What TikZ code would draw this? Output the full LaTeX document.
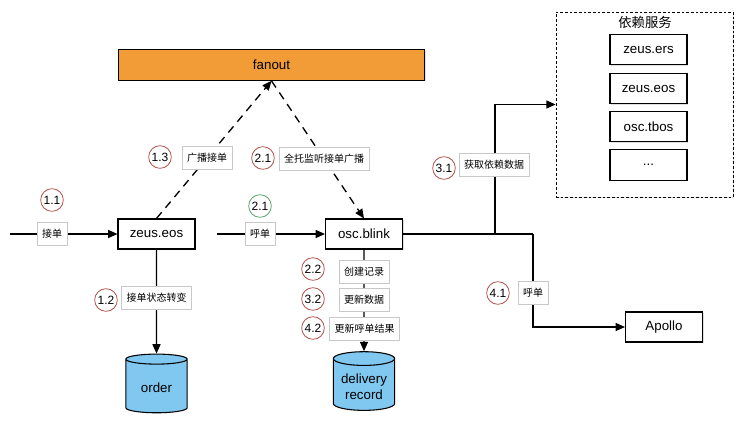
\documentclass[tikz,border=0pt]{standalone}
\usepackage{fontspec}
\setmainfont{Liberation Sans}
\newfontfamily\cjk{Noto Sans CJK SC}
\usetikzlibrary{shapes.geometric,shadows,arrows.meta}
\definecolor{fanorange}{RGB}{242,156,56}
\definecolor{dbblue}{RGB}{128,200,240}
\definecolor{stepred}{RGB}{176,84,76}
\definecolor{stepgreen}{RGB}{90,164,105}
\definecolor{labgray}{RGB}{200,200,200}

\begin{document}
\begin{tikzpicture}[x=0.75pt,y=-0.75pt,>={Triangle[length=7pt,width=6pt]},
  svc/.style={draw,fill=white,line width=0.8pt,minimum width=57.75pt,minimum height=22.5pt,
    font=\fontsize{10}{12}\selectfont,drop shadow={shadow xshift=0.8pt,shadow yshift=-0.8pt,opacity=0.25}},
  db/.style={cylinder,shape border rotate=90,aspect=0.25,draw,fill=dbblue,line width=0.8pt,
    minimum width=46pt,minimum height=44pt,font=\fontsize{10}{12}\selectfont,align=center},
  lab/.style={draw=labgray,fill=white,line width=0.4pt,inner xsep=3.75pt,minimum height=17pt,
    font=\cjk\fontsize{7.5}{9}\selectfont},
  num/.style={circle,draw=stepred,fill=white,line width=0.6pt,minimum size=17pt,inner sep=0pt,
    font=\fontsize{9}{11}\selectfont},
  flow/.style={->,line width=1pt},
  bcast/.style={->,line width=1pt,dash pattern=on 6pt off 4.5pt}]
\useasboundingbox (0,0) rectangle (746,433);
% services
\node[svc,fill=fanorange,minimum width=230pt,minimum height=23pt] (fanout) at (271.5,65) {fanout};
\node[svc] (zeus) at (156.5,234) {zeus.eos};
\node[svc] (blink) at (364,234) {osc.blink};
\node[db] (order) at (156.5,387.5) {order};
\node[db] (record) at (364,386.5) {delivery\\record};
\node[svc] (apollo) at (664,327) {Apollo};
% dependencies
\node[draw,fill=white,dash pattern=on 2pt off 1.5pt,line width=0.6pt,minimum width=132.75pt,minimum height=138.75pt,
  drop shadow={shadow xshift=0.8pt,shadow yshift=-0.8pt,opacity=0.25}] (deps) at (644.5,104.5) {};
\node[font=\cjk\fontsize{10}{12}\selectfont] (depstitle) at (645,22) {依赖服务};
\node[svc,minimum height=23pt] (ers) at (648.5,49.5) {zeus.ers};
\node[svc,minimum height=23pt] (eos) at (648.5,88.5) {zeus.eos};
\node[svc,minimum height=23pt] (tbos) at (648.5,126.5) {osc.tbos};
\node[svc,minimum height=23pt] (more) at (648.5,165) {...};
% connectors
\coordinate (in1) at (10,234);
\coordinate (in2) at (217,234);
\coordinate (fork) at (495,234);
\coordinate (turn) at (533,234);
\draw[flow] (in1) -- (zeus);
\draw[flow] (in2) -- (blink);
\draw[bcast] (zeus.north) -- (fanout.south);
\draw[bcast] (fanout.south) -- (blink.north);
\draw[flow] (zeus.south) -- (order.north);
\draw[flow] (blink.south) -- (record.north);
\draw[line width=1pt] (blink.east) -- (turn);
\draw[flow] (fork) |- (deps.west);
\draw[flow] (turn) |- (apollo.west);
% labels
\node[lab] (l11) at (52,234) {接单};
\node[lab] (l21) at (260,234) {呼单};
\node[lab] (l13) at (207,157.5) {广播接单};
\node[lab] (l21b) at (324,159) {全托监听接单广播};
\node[lab] (l12) at (156.5,297.5) {接单状态转变};
\node[lab] (l22) at (364,271.5) {创建记录};
\node[lab] (l32) at (364,299.5) {更新数据};
\node[lab] (l42) at (364.5,329) {更新呼单结果};
\node[lab] (l31) at (494,165) {获取依赖数据};
\node[lab] (l41) at (533,293) {呼单};
% steps
\node[num] (n11) at (52,200) {1.1};
\node[num,draw=stepgreen] (n21) at (260,206) {2.1};
\node[num] (n13) at (160,157) {1.3};
\node[num] (n21b) at (263,158) {2.1};
\node[num] (n12) at (106,300) {1.2};
\node[num] (n22) at (313,269) {2.2};
\node[num] (n32) at (313,299) {3.2};
\node[num] (n42) at (313,328) {4.2};
\node[num] (n31) at (444,168) {3.1};
\node[num] (n41) at (498,293) {4.1};
\end{tikzpicture}
\end{document}
